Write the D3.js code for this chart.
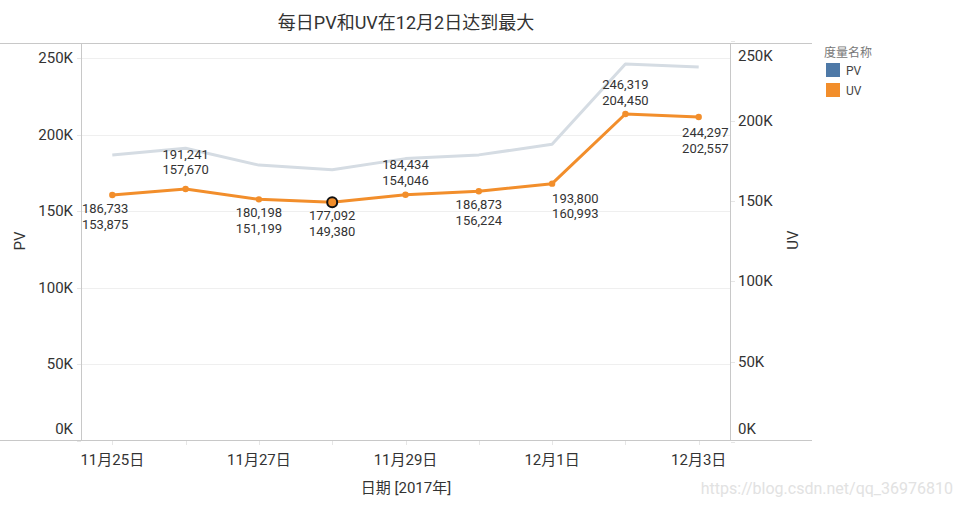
<!DOCTYPE html>
<html><head><meta charset="utf-8">
<script src="https://cdn.jsdelivr.net/npm/d3@7"></script>
<style>
body{margin:0;background:#fff;}
text{font-family:Roboto,"Noto Sans CJK SC",sans-serif;}
</style></head>
<body><svg id="c" width="963" height="507"></svg>
<script>
const dates = ["11月25日","11月26日","11月27日","11月28日","11月29日","11月30日","12月1日","12月2日","12月3日"];
const pv = [186733,191241,180198,177092,184434,186873,193800,246319,244297];
const uv = [153875,157670,151199,149380,154046,156224,160993,204450,202557];
const tickValues = [0,50000,100000,150000,200000,250000];
const tickLabels = ["0K","50K","100K","150K","200K","250K"];
const xLabelDates = ["11月25日","11月27日","11月29日","12月1日","12月3日"];
const labelPos = ["below","above","below","below","above","below","below","above","below"];
const labelAlign = ["start","middle","middle","middle","middle","middle","start","middle","end"];
const highlight = "11月28日";

const svg = d3.select("#c");
const L=81, R=730, T=43, B=441;
const x = d3.scalePoint().domain(dates).range([L,R]).padding(0.427);
const yL = d3.scaleLinear().domain([0,260000]).range([B-0.2,T]);
const yR = d3.scaleLinear().domain([0,248750]).range([B+0.7,T]);

const axisCol="#c8c8c8";
svg.append("g").selectAll("line").data(tickValues.slice(1)).join("line")
  .attr("x1",L).attr("x2",R).attr("y1",d=>Math.round(yL(d))+0.5).attr("y2",d=>Math.round(yL(d))+0.5)
  .attr("stroke","#efefef").attr("stroke-width",1);

svg.append("line").attr("x1",0).attr("x2",812).attr("y1",43.5).attr("y2",43.5).attr("stroke",axisCol);
svg.append("line").attr("x1",0).attr("x2",812).attr("y1",440.5).attr("y2",440.5).attr("stroke",axisCol);
svg.append("line").attr("x1",81.5).attr("x2",81.5).attr("y1",43).attr("y2",440).attr("stroke",axisCol);
svg.append("line").attr("x1",730.5).attr("x2",730.5).attr("y1",43).attr("y2",440).attr("stroke",axisCol);

const gl = svg.append("g");
gl.selectAll("line").data(tickValues).join("line")
  .attr("x1",77).attr("x2",81).attr("y1",d=>Math.round(yL(d))+0.5).attr("y2",d=>Math.round(yL(d))+0.5)
  .attr("stroke","#e6e6e6");
gl.selectAll("text").data(tickValues).join("text")
  .attr("x",73).attr("y",d=>Math.max(56,Math.min(429,yL(d))))
  .attr("text-anchor","end").attr("dominant-baseline","central")
  .attr("font-size",15).attr("fill","#333").text((d,i)=>tickLabels[i]);
const gr = svg.append("g");
gr.selectAll("line").data(tickValues).join("line")
  .attr("x1",731).attr("x2",735).attr("y1",d=>Math.round(yR(d))+0.5).attr("y2",d=>Math.round(yR(d))+0.5)
  .attr("stroke","#e6e6e6");
gr.selectAll("text").data(tickValues).join("text")
  .attr("x",738).attr("y",d=>Math.max(56,Math.min(429,yR(d))))
  .attr("text-anchor","start").attr("dominant-baseline","central")
  .attr("font-size",15).attr("fill","#333").text((d,i)=>tickLabels[i]);

svg.append("g").selectAll("line").data(dates).join("line")
  .attr("x1",d=>Math.round(x(d))+0.5).attr("x2",d=>Math.round(x(d))+0.5).attr("y1",441).attr("y2",445)
  .attr("stroke","#e6e6e6");
svg.append("g").selectAll("text").data(xLabelDates).join("text")
  .attr("x",d=>x(d)).attr("y",460).attr("text-anchor","middle").attr("dominant-baseline","central")
  .attr("font-size",15).attr("fill","#333").text(d=>d);

svg.append("text").attr("x",406).attr("y",488).attr("text-anchor","middle").attr("dominant-baseline","central")
  .attr("font-size",15).attr("fill","#333").text("日期 [2017年]");
svg.append("text").attr("transform","translate(20,241) rotate(-90)").attr("text-anchor","middle").attr("dominant-baseline","central")
  .attr("font-size",15).attr("fill","#333").text("PV");
svg.append("text").attr("transform","translate(793,240) rotate(-90)").attr("text-anchor","middle").attr("dominant-baseline","central")
  .attr("font-size",15).attr("fill","#333").text("UV");

svg.append("text").attr("x",406).attr("y",22).attr("text-anchor","middle").attr("dominant-baseline","central")
  .attr("font-family","'Noto Sans CJK SC',sans-serif").attr("font-size",18).attr("fill","#333")
  .text("每日PV和UV在12月2日达到最大");

const linePV = d3.line().x((d,i)=>x(dates[i])).y(d=>yL(d));
const lineUV = d3.line().x((d,i)=>x(dates[i])).y(d=>yR(d));
svg.append("path").attr("d",linePV(pv)).attr("fill","none").attr("stroke","#d5dce3").attr("stroke-width",3).attr("stroke-linejoin","round");
svg.append("path").attr("d",lineUV(uv)).attr("fill","none").attr("stroke","#f28e2b").attr("stroke-width",3).attr("stroke-linejoin","round");
svg.append("g").selectAll("circle").data(uv).join("circle")
  .attr("cx",(d,i)=>x(dates[i])).attr("cy",d=>yR(d)).attr("r",(d,i)=>dates[i]===highlight?5:3.2)
  .attr("fill","#f28e2b").attr("stroke",(d,i)=>dates[i]===highlight?"#111":"none").attr("stroke-width",2);

const fmt = d3.format(",");
const lab = svg.append("g");
dates.forEach((d,i)=>{
  const px = x(d);
  const uy = yR(uv[i]);
  const py = yL(pv[i]);
  let y1;
  if(labelPos[i]==="above"){ y1 = (i===7)? uy-29.5 : py+6; }
  else { y1 = uy+13.5; }
  if(i===6) y1 = uy+14.5;
  if(i===8) y1 = uy+15.5;
  let cx = px; const anchor = labelAlign[i];
  if(i===0) cx = L+1;
  if(i===8) cx = R-1.5;
  [fmt(pv[i]),fmt(uv[i])].forEach((t,k)=>{
    lab.append("text").attr("x",cx).attr("y",y1+k*15.6).attr("text-anchor",anchor)
      .attr("dominant-baseline","central").attr("font-size",13).attr("fill","#333").text(t);
  });
});

svg.append("text").attr("x",824).attr("y",53).attr("dominant-baseline","central")
  .attr("font-family","'Noto Sans CJK SC',serif").attr("font-size",12).attr("fill","#777").text("度量名称");
const legItems=[["PV","#4e79a7"],["UV","#f28e2b"]];
legItems.forEach((it,i)=>{
  svg.append("rect").attr("x",826).attr("y",63+i*20).attr("width",14).attr("height",14).attr("fill",it[1]);
  svg.append("text").attr("x",846).attr("y",71+i*20).attr("dominant-baseline","central")
    .attr("font-size",12).attr("fill","#444").text(it[0]);
});

svg.append("text").attr("x",953).attr("y",488).attr("text-anchor","end").attr("dominant-baseline","central")
  .attr("font-family","Arial,'Liberation Sans',sans-serif").attr("font-size",16).attr("fill","#e2e2e2").text("https://blog.csdn.net/qq_36976810");
</script></body></html>
